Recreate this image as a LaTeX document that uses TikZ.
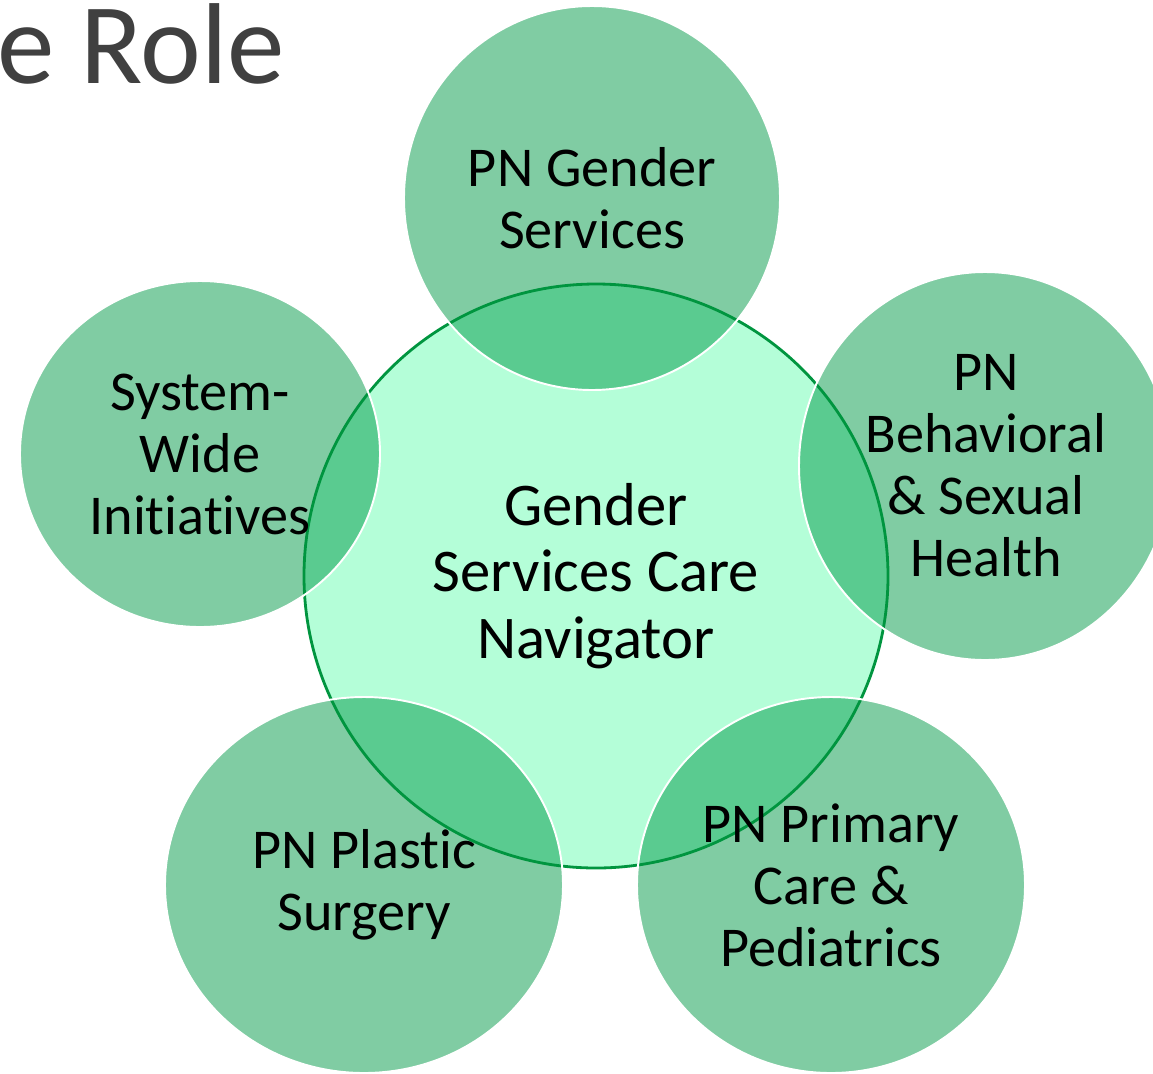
\documentclass[tikz,border=0pt]{standalone}
\usepackage{fontspec}
\setmainfont{Carlito}[Ligatures=NoCommon]

\definecolor{petal}{HTML}{80CCA3}
\definecolor{petalover}{HTML}{5ACB90}
\definecolor{hub}{HTML}{B4FED8}
\definecolor{hubline}{HTML}{00953F}
\definecolor{titlegray}{HTML}{404040}

\tikzset{
  petaltext/.style={align=center, inner sep=0pt, font=\fontsize{32}{35.3}\selectfont},
  hubtext/.style={align=center, inner sep=0pt, font=\fontsize{34.5}{37.8}\selectfont},
}

\begin{document}
\begin{tikzpicture}[x=0.02cm,y=-0.02cm]
    \useasboundingbox (0,0) rectangle (1153,1073);
    % centre x / centre y / x radius / y radius of the outer circles
    \def\petals{592/198/188/192, 200/454/180/173, 985/466/186/194, 364/885/199/188, 831/885/194/188}

    \fill[hub] (596,576) circle [radius=292];
    \foreach \cx/\cy/\rx/\ry in \petals
        \fill[petal] (\cx,\cy) ellipse [x radius=\rx, y radius=\ry];
    % darker where the outer circles lie on the hub
    \begin{scope}
        \clip (596,576) circle [radius=292];
        \foreach \cx/\cy/\rx/\ry in \petals
            \fill[petalover] (\cx,\cy) ellipse [x radius=\rx, y radius=\ry];
    \end{scope}
    \draw[hubline, line width=1.6pt] (596,576) circle [radius=292];
    \foreach \cx/\cy/\rx/\ry in \petals
        \draw[white, line width=1.1pt] (\cx,\cy) ellipse [x radius=\rx, y radius=\ry];

    \node[anchor=base west, inner sep=0pt, text=titlegray, font=\fontsize{65.5}{70}\selectfont] (title) at (-3,83) {e Role};

    \node[hubtext] (navigator) at (596,576) {Gender\\Services Care\\Navigator};
    \node[petaltext] (gender) at (592,198) {PN Gender\\Services};
    \node[petaltext] (system) at (200,454) {System-\\Wide\\Initiatives};
    \node[petaltext] (behavioral) at (986,466) {PN\\Behavioral\\\& Sexual\\Health};
    \node[petaltext] (plastic) at (364,885) {PN Plastic\\Surgery};
    \node[petaltext] (primary) at (831,885) {PN Primary\\Care \&\\Pediatrics};
\end{tikzpicture}
\end{document}
